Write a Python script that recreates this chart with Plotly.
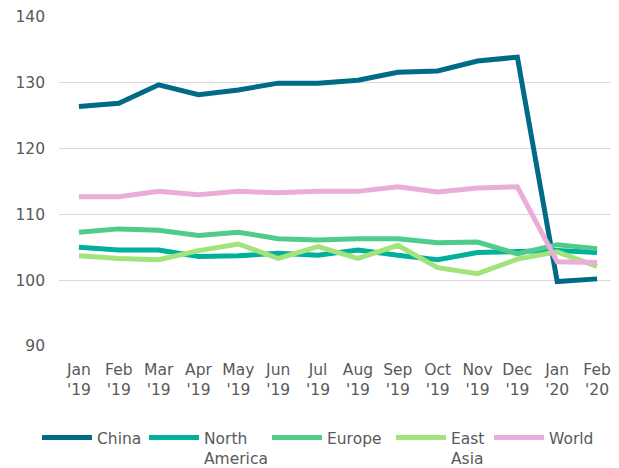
import plotly.graph_objects as go

months = ["Jan<br>'19", "Feb<br>'19", "Mar<br>'19", "Apr<br>'19", "May<br>'19", "Jun<br>'19",
          "Jul<br>'19", "Aug<br>'19", "Sep<br>'19", "Oct<br>'19", "Nov<br>'19", "Dec<br>'19",
          "Jan<br>'20", "Feb<br>'20"]

china = [126.4, 126.9, 129.7, 128.2, 128.9, 129.95, 129.95, 130.4, 131.6, 131.8, 133.3, 133.9, 99.8, 100.2]
north_america = [105.0, 104.6, 104.6, 103.6, 103.7, 104.1, 103.8, 104.6, 103.8, 103.1, 104.2, 104.4, 104.5, 104.2]
europe = [107.3, 107.8, 107.6, 106.8, 107.3, 106.3, 106.1, 106.3, 106.3, 105.7, 105.8, 104.0, 105.4, 104.8]
east_asia = [103.7, 103.3, 103.1, 104.5, 105.5, 103.3, 105.1, 103.3, 105.3, 101.9, 101.0, 103.2, 104.3, 102.1]
world = [112.7, 112.7, 113.5, 113.0, 113.5, 113.3, 113.5, 113.5, 114.2, 113.4, 114.0, 114.2, 102.8, 102.7]

series = [
    ("China", china, "#006B85"),
    ("North<br>America", north_america, "#00B09B"),
    ("Europe", europe, "#4FCB8C"),
    ("East<br>Asia", east_asia, "#A3E37B"),
    ("World", world, "#EAADD8"),
]
# the page body adds an 8px offset, so the figure is drawn 8px smaller
OFF = 8
W, H = 619 - OFF, 468 - OFF
legend_left_px = [29, 136, 259, 383, 481]
legend_top_px = 413

font = dict(family="DejaVu Sans, Verdana, sans-serif", size=15.5, color="#595959")

fig = go.Figure()
layout_legends = {}
for i, (name, vals, color) in enumerate(series):
    key = "legend" if i == 0 else f"legend{i + 1}"
    fig.add_trace(go.Scatter(x=months, y=vals, name=name, mode="lines",
                             line=dict(color=color, width=5), legend=key))
    layout_legends[key] = dict(
        orientation="h", x=legend_left_px[i] / W, xanchor="left", xref="container",
        y=(H - legend_top_px) / H, yanchor="top", yref="container",
        font=font, itemwidth=50, valign="top", bgcolor="rgba(0,0,0,0)",
        borderwidth=0,
    )

fig.update_layout(
    width=W, height=H,
    margin=dict(l=59 - OFF, r=2, t=17 - OFF, b=H - (346 - OFF)),
    paper_bgcolor="white", plot_bgcolor="white",
    font=font,
    showlegend=True,
    xaxis=dict(type="category", range=[-0.5, 13.5], showgrid=False, zeroline=False,
               showline=False, ticks="", tickfont=font, tickangle=0, automargin=False,
               ticklabelstandoff=12),
    yaxis=dict(range=[90, 140], dtick=10, showgrid=True, gridcolor="#D9D9D9",
               gridwidth=1, zeroline=False, showline=False, ticks="",
               tickfont=font, ticklabelstandoff=13, automargin=False),
    **layout_legends,
)

fig.write_html("out.html")
